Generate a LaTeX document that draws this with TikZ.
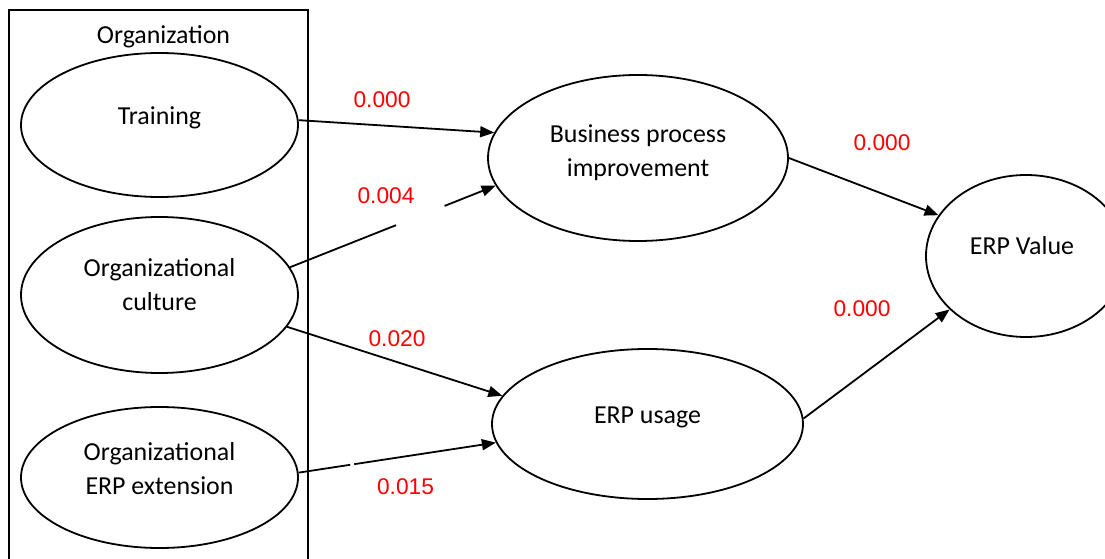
\documentclass[tikz,border=0pt]{standalone}
\usepackage{fontspec}
\setmainfont{Carlito}
\newfontfamily\numfont{Liberation Sans}
\usetikzlibrary{arrows.meta,calc,shapes.geometric}

\begin{document}
\begin{tikzpicture}[x=1bp,y=-1bp,
  construct/.style={ellipse, draw, line width=1.8bp, inner sep=0pt},
  frame/.style={draw, line width=1.8bp, inner sep=0pt},
  path coef/.style={text=red, font=\numfont\fontsize{22.8}{27}\selectfont, inner sep=0pt},
  link/.style={line width=1.8bp, -{Triangle[length=14bp,width=11bp]}},
  plain link/.style={line width=1.8bp},
  every label/.style={font=\fontsize{26}{34}\selectfont, align=center, inner sep=0pt}
]
\clip (0,0) rectangle (1105,559);
\fill[white] (0,0) rectangle (1105,559);

% organisation frame (runs past the lower edge)
\node[frame, minimum width=299bp, minimum height=600bp, anchor=north west] (org) at (8,9) {};
\node[font=\fontsize{26}{34}\selectfont, anchor=base, inner sep=0pt] (orgtitle) at (163.5,43.3) {Organization};

% constructs
\node[construct, minimum width=277bp, minimum height=144bp,
      label={[yshift=7bp]center:Training}] (train) at (159.5,125) {};
\node[construct, minimum width=277bp, minimum height=156bp,
      label={[yshift=10bp]center:Organizational\\culture}] (culture) at (159.5,295) {};
\node[construct, minimum width=277bp, minimum height=141bp,
      label={[yshift=9bp]center:Organizational\\ERP extension}] (ext) at (159.5,477.5) {};
\node[construct, minimum width=300bp, minimum height=166bp,
      label={[yshift=5bp]center:Business process\\improvement}] (bpi) at (638,158) {};
\node[construct, minimum width=311bp, minimum height=150bp,
      label={[yshift=7bp]center:ERP usage}] (usage) at (647.5,424) {};
\node[construct, minimum width=200bp, minimum height=162bp,
      label={[yshift=10bp,xshift=-4bp]center:ERP Value}] (value) at (1026,256) {};

% paths
\draw[link] (train.2) -- (bpi.170);

\coordinate (cb1) at ($(culture.12)!0.516!(bpi.191)$);
\coordinate (cb2) at ($(culture.12)!0.752!(bpi.191)$);
\draw[plain link] (culture.12) -- (cb1);
\draw[link] (cb2) -- (bpi.191);

\draw[link] (culture.-14) -- (usage.169);

\coordinate (eu1) at ($(ext.2)!0.262!(usage.187)$);
\coordinate (eu2) at ($(ext.2)!0.282!(usage.187)$);
\draw[plain link] (ext.2) -- (eu1);
\draw[link] (eu2) -- (usage.187);

\draw[link] (bpi.east) -- (value.155);
\draw[link] (usage.2) -- (value.215);

% path coefficients
\node[path coef] (p1) at (382,99.5) {0.000};
\node[path coef] (p2) at (386,195.5) {0.004};
\node[path coef] (p3) at (882,142.5) {0.000};
\node[path coef] (p4) at (862,309) {0.000};
\node[path coef] (p5) at (397,339) {0.020};
\node[path coef] (p6) at (405.5,487) {0.015};
\end{tikzpicture}
\end{document}
